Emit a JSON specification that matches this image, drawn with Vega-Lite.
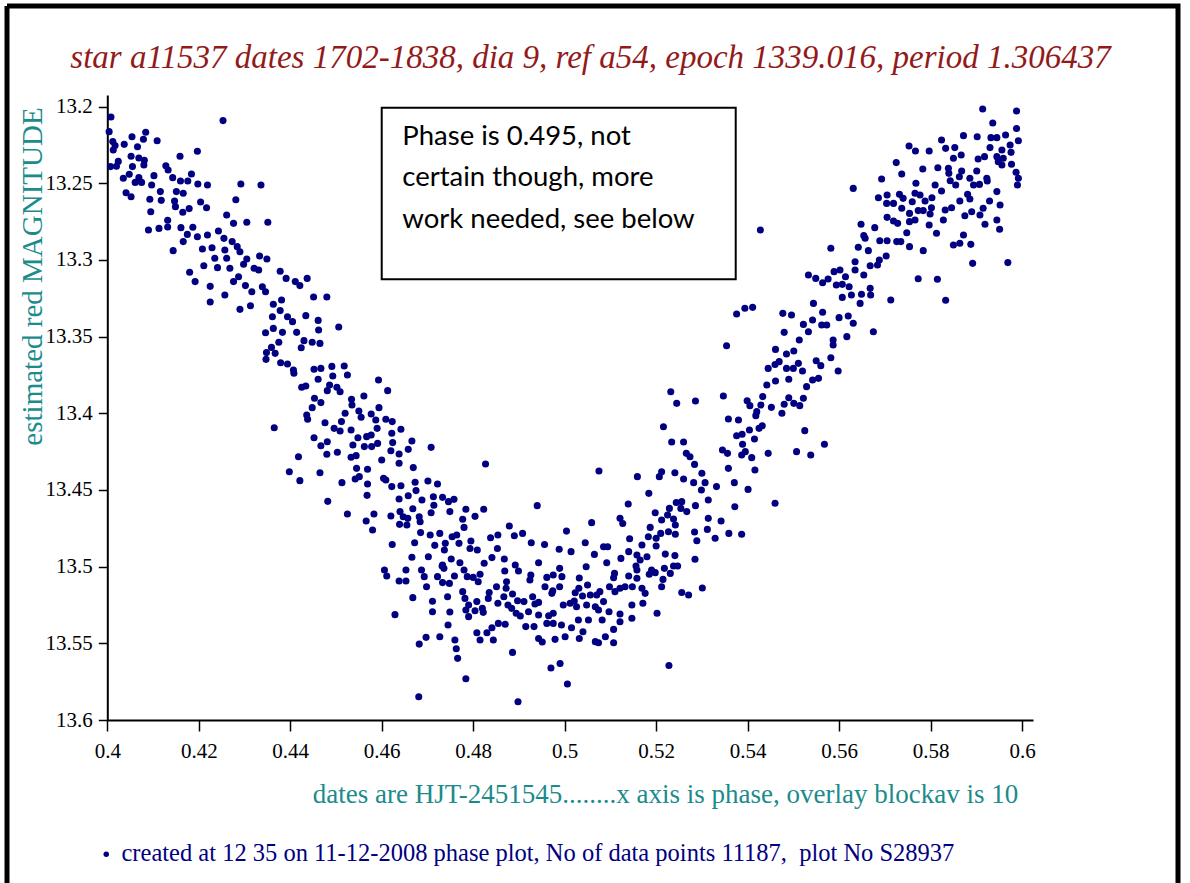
{
  "$schema": "https://vega.github.io/schema/vega-lite/v6.json",
  "width": 1171,
  "height": 877,
  "autosize": "none",
  "padding": {"left": 7, "top": 6, "right": 12, "bottom": 0},
  "background": "white",
  "config": {
    "view": {"stroke": "#000", "strokeWidth": 5, "strokeDash": [2048, 1171, 877, 0]},
    "font": "Liberation Serif"
  },
  "title": {
    "text": "star a11537 dates 1702-1838, dia 9, ref a54, epoch 1339.016, period 1.306437",
    "anchor": "middle",
    "frame": "group",
    "offset": -95,
    "dx": -2,
    "baseline": "alphabetic",
    "font": "Liberation Serif",
    "fontSize": 33,
    "fontStyle": "italic",
    "fontWeight": "normal",
    "color": "#931a1a"
  },
  "data": {"values": [
    {"phase":0.4008,"mag":13.2067},{"phase":0.4253,"mag":13.2091},{"phase":0.4004,"mag":13.2163},{"phase":0.4084,"mag":13.2167},{"phase":0.4054,"mag":13.2196},{"phase":0.4079,"mag":13.2213},{"phase":0.4109,"mag":13.2222},{"phase":0.4012,"mag":13.2228},{"phase":0.4017,"mag":13.2254},{"phase":0.4037,"mag":13.2246},
    {"phase":0.4066,"mag":13.2261},{"phase":0.4013,"mag":13.2283},{"phase":0.4197,"mag":13.2291},{"phase":0.4052,"mag":13.2324},{"phase":0.4159,"mag":13.2324},{"phase":0.4069,"mag":13.2335},{"phase":0.4081,"mag":13.235},{"phase":0.4024,"mag":13.2357},{"phase":0.4007,"mag":13.2391},{"phase":0.402,"mag":13.2389},
    {"phase":0.4055,"mag":13.2391},{"phase":0.4128,"mag":13.2385},{"phase":0.408,"mag":13.238},{"phase":0.4133,"mag":13.2413},{"phase":0.4048,"mag":13.2441},{"phase":0.4102,"mag":13.245},{"phase":0.4035,"mag":13.2467},{"phase":0.4069,"mag":13.2463},{"phase":0.4143,"mag":13.2463},{"phase":0.4184,"mag":13.2439},
    {"phase":0.416,"mag":13.2485},{"phase":0.4176,"mag":13.2485},{"phase":0.4061,"mag":13.2494},{"phase":0.4075,"mag":13.2494},{"phase":0.4097,"mag":13.2511},{"phase":0.4198,"mag":13.2504},{"phase":0.4219,"mag":13.2511},{"phase":0.4292,"mag":13.2504},{"phase":0.4336,"mag":13.2511},{"phase":0.4041,"mag":13.2561},
    {"phase":0.4052,"mag":13.2587},{"phase":0.4116,"mag":13.2554},{"phase":0.4151,"mag":13.2554},{"phase":0.4166,"mag":13.2565},{"phase":0.4093,"mag":13.2604},{"phase":0.4118,"mag":13.2611},{"phase":0.4147,"mag":13.2615},{"phase":0.4204,"mag":13.2622},{"phase":0.4281,"mag":13.2607},{"phase":0.4149,"mag":13.2652},
    {"phase":0.4217,"mag":13.2659},{"phase":0.4165,"mag":13.2689},{"phase":0.4179,"mag":13.2665},{"phase":0.4095,"mag":13.2685},{"phase":0.4261,"mag":13.2707},{"phase":0.4276,"mag":13.2761},{"phase":0.4305,"mag":13.2754},{"phase":0.4351,"mag":13.2754},{"phase":0.4132,"mag":13.2741},{"phase":0.409,"mag":13.2804},
    {"phase":0.4113,"mag":13.2794},{"phase":0.4132,"mag":13.2785},{"phase":0.4161,"mag":13.2789},{"phase":0.4187,"mag":13.2787},{"phase":0.4175,"mag":13.2833},{"phase":0.4166,"mag":13.288},{"phase":0.4197,"mag":13.2848},{"phase":0.4219,"mag":13.2837},{"phase":0.4243,"mag":13.2811},{"phase":0.4255,"mag":13.2859},
    {"phase":0.4273,"mag":13.288},{"phase":0.4284,"mag":13.2913},{"phase":0.4144,"mag":13.2939},{"phase":0.4208,"mag":13.2928},{"phase":0.4229,"mag":13.292},{"phase":0.4257,"mag":13.2935},{"phase":0.4235,"mag":13.2989},{"phase":0.4261,"mag":13.2989},{"phase":0.429,"mag":13.2946},{"phase":0.4305,"mag":13.2994},
    {"phase":0.4333,"mag":13.2974},{"phase":0.4349,"mag":13.2994},{"phase":0.4211,"mag":13.3037},{"phase":0.4241,"mag":13.305},{"phase":0.4268,"mag":13.3054},{"phase":0.4298,"mag":13.3028},{"phase":0.4321,"mag":13.3054},{"phase":0.4331,"mag":13.3065},{"phase":0.418,"mag":13.308},{"phase":0.4192,"mag":13.3141},
    {"phase":0.4225,"mag":13.3172},{"phase":0.4276,"mag":13.3141},{"phase":0.4287,"mag":13.3109},{"phase":0.4302,"mag":13.3167},{"phase":0.4316,"mag":13.3207},{"phase":0.4339,"mag":13.3174},{"phase":0.4346,"mag":13.3207},{"phase":0.4378,"mag":13.3074},{"phase":0.4391,"mag":13.312},{"phase":0.4411,"mag":13.3141},
    {"phase":0.4421,"mag":13.3167},{"phase":0.4437,"mag":13.312},{"phase":0.4257,"mag":13.3228},{"phase":0.4225,"mag":13.3274},{"phase":0.429,"mag":13.3322},{"phase":0.4313,"mag":13.3298},{"phase":0.4363,"mag":13.3289},{"phase":0.4381,"mag":13.3261},{"phase":0.4451,"mag":13.3241},{"phase":0.448,"mag":13.3241},
    {"phase":0.4378,"mag":13.333},{"phase":0.4361,"mag":13.337},{"phase":0.4394,"mag":13.337},{"phase":0.4405,"mag":13.3402},{"phase":0.4434,"mag":13.3363},{"phase":0.4461,"mag":13.3394},{"phase":0.4363,"mag":13.3446},{"phase":0.4346,"mag":13.3474},{"phase":0.4383,"mag":13.3472},{"phase":0.4414,"mag":13.3472},
    {"phase":0.4462,"mag":13.3457},{"phase":0.4506,"mag":13.3437},{"phase":0.4375,"mag":13.3537},{"phase":0.443,"mag":13.3526},{"phase":0.4448,"mag":13.3537},{"phase":0.4465,"mag":13.3544},
    {"phase":0.4424,"mag":13.3572},{"phase":0.4359,"mag":13.357},{"phase":0.4348,"mag":13.3604},{"phase":0.4367,"mag":13.3609},{"phase":0.4347,"mag":13.3648},{"phase":0.4379,"mag":13.367},{"phase":0.4394,"mag":13.3678},{"phase":0.4407,"mag":13.3717},{"phase":0.4408,"mag":13.3739},{"phase":0.4452,"mag":13.3713},
    {"phase":0.4467,"mag":13.3707},{"phase":0.4491,"mag":13.3694},{"phase":0.4518,"mag":13.3691},{"phase":0.4493,"mag":13.3757},{"phase":0.4525,"mag":13.375},{"phase":0.4461,"mag":13.3778},{"phase":0.4593,"mag":13.3783},{"phase":0.4613,"mag":13.3852},{"phase":0.4425,"mag":13.383},{"phase":0.4434,"mag":13.3822},
    {"phase":0.4486,"mag":13.3815},{"phase":0.4502,"mag":13.383},{"phase":0.4481,"mag":13.3852},{"phase":0.4509,"mag":13.3859},{"phase":0.4453,"mag":13.3902},{"phase":0.4467,"mag":13.393},{"phase":0.4448,"mag":13.3963},{"phase":0.4561,"mag":13.3887},{"phase":0.4534,"mag":13.3909},{"phase":0.4535,"mag":13.3946},
    {"phase":0.455,"mag":13.3985},{"phase":0.4594,"mag":13.3963},{"phase":0.4577,"mag":13.4004},{"phase":0.452,"mag":13.4},{"phase":0.4512,"mag":13.4054},{"phase":0.4436,"mag":13.4011},{"phase":0.4438,"mag":13.4039},{"phase":0.4476,"mag":13.4061},{"phase":0.4555,"mag":13.4026},{"phase":0.4587,"mag":13.4044},
    {"phase":0.4609,"mag":13.4039},{"phase":0.4623,"mag":13.4054},{"phase":0.459,"mag":13.4098},{"phase":0.4642,"mag":13.4104},{"phase":0.4365,"mag":13.4094},{"phase":0.4496,"mag":13.4098},{"phase":0.4509,"mag":13.4115},{"phase":0.4533,"mag":13.4109},{"phase":0.4548,"mag":13.4159},{"phase":0.4567,"mag":13.4152},
    {"phase":0.4577,"mag":13.4141},{"phase":0.4591,"mag":13.4196},{"phase":0.4622,"mag":13.413},{"phase":0.4452,"mag":13.4159},{"phase":0.4481,"mag":13.4185},{"phase":0.4467,"mag":13.4211},{"phase":0.4537,"mag":13.4207},{"phase":0.4562,"mag":13.4217},{"phase":0.4578,"mag":13.4217},{"phase":0.4503,"mag":13.4254},
    {"phase":0.448,"mag":13.4267},{"phase":0.4418,"mag":13.4283},{"phase":0.4533,"mag":13.4287},{"phase":0.4544,"mag":13.4276},{"phase":0.4398,"mag":13.4381},{"phase":0.4465,"mag":13.4387},{"phase":0.4421,"mag":13.4439},{"phase":0.4545,"mag":13.4359},{"phase":0.4569,"mag":13.4365},{"phase":0.4551,"mag":13.4413},
    {"phase":0.4542,"mag":13.4428},{"phase":0.4513,"mag":13.4452},{"phase":0.4569,"mag":13.4461},{"phase":0.4482,"mag":13.4574},{"phase":0.4568,"mag":13.4535},{"phase":0.4525,"mag":13.4657},{"phase":0.4566,"mag":13.4702},{"phase":0.4583,"mag":13.4657},{"phase":0.458,"mag":13.4761},
    {"phase":0.4624,"mag":13.4191},{"phase":0.4666,"mag":13.4181},{"phase":0.4708,"mag":13.4222},{"phase":0.4658,"mag":13.4235},{"phase":0.462,"mag":13.4244},{"phase":0.4638,"mag":13.4265},{"phase":0.46,"mag":13.4304},{"phase":0.4638,"mag":13.4326},{"phase":0.4669,"mag":13.4354},{"phase":0.4827,"mag":13.4331},
    {"phase":0.5075,"mag":13.4376},{"phase":0.5234,"mag":13.4187},{"phase":0.526,"mag":13.4187},{"phase":0.5266,"mag":13.4261},{"phase":0.5274,"mag":13.4283},{"phase":0.5284,"mag":13.4333},{"phase":0.53,"mag":13.4391},{"phase":0.5307,"mag":13.4452},{"phase":0.5299,"mag":13.45},{"phase":0.5282,"mag":13.4452},
    {"phase":0.5241,"mag":13.4387},{"phase":0.526,"mag":13.4428},{"phase":0.5212,"mag":13.4381},{"phase":0.5207,"mag":13.4413},{"phase":0.5159,"mag":13.4413},{"phase":0.5314,"mag":13.4565},{"phase":0.4604,"mag":13.4424},{"phase":0.4609,"mag":13.4435},{"phase":0.4622,"mag":13.4478},{"phase":0.4642,"mag":13.4472},
    {"phase":0.4673,"mag":13.445},{"phase":0.4701,"mag":13.4441},{"phase":0.4722,"mag":13.4461},{"phase":0.4675,"mag":13.4504},{"phase":0.4658,"mag":13.4537},{"phase":0.4638,"mag":13.4559},{"phase":0.4688,"mag":13.4565},{"phase":0.4713,"mag":13.4544},{"phase":0.4733,"mag":13.4548},{"phase":0.4746,"mag":13.4576},
    {"phase":0.4758,"mag":13.4561},{"phase":0.494,"mag":13.4602},{"phase":0.5184,"mag":13.4522},{"phase":0.5139,"mag":13.4591},{"phase":0.5244,"mag":13.4581},{"phase":0.5256,"mag":13.4576},{"phase":0.5254,"mag":13.462},{"phase":0.5267,"mag":13.4641},{"phase":0.5286,"mag":13.4602},{"phase":0.5229,"mag":13.462},
    {"phase":0.5225,"mag":13.4663},{"phase":0.5212,"mag":13.4696},{"phase":0.5198,"mag":13.4648},{"phase":0.5238,"mag":13.4689},{"phase":0.5242,"mag":13.4728},{"phase":0.462,"mag":13.467},{"phase":0.464,"mag":13.4641},{"phase":0.4647,"mag":13.4674},{"phase":0.4657,"mag":13.4685},{"phase":0.4668,"mag":13.4622},
    {"phase":0.4682,"mag":13.4674},{"phase":0.4684,"mag":13.4707},{"phase":0.4708,"mag":13.4648},{"phase":0.4714,"mag":13.46},{"phase":0.4749,"mag":13.4641},{"phase":0.4784,"mag":13.4626},{"phase":0.4804,"mag":13.4672},{"phase":0.4823,"mag":13.4626},{"phase":0.4777,"mag":13.4691},{"phase":0.4639,"mag":13.4724},
    {"phase":0.4655,"mag":13.4728},{"phase":0.4685,"mag":13.4778},{"phase":0.4706,"mag":13.4794},{"phase":0.4727,"mag":13.4783},{"phase":0.4754,"mag":13.4805},{"phase":0.4764,"mag":13.4794},{"phase":0.478,"mag":13.4744},{"phase":0.4795,"mag":13.4833},{"phase":0.4809,"mag":13.4891},{"phase":0.4838,"mag":13.4811},
    {"phase":0.4854,"mag":13.4794},{"phase":0.4879,"mag":13.4735},{"phase":0.489,"mag":13.4798},{"phase":0.4908,"mag":13.4783},{"phase":0.5004,"mag":13.4768},{"phase":0.5059,"mag":13.4713},{"phase":0.5121,"mag":13.4685},{"phase":0.5127,"mag":13.4718},{"phase":0.5187,"mag":13.4744},{"phase":0.521,"mag":13.4783},
    {"phase":0.5227,"mag":13.4772},{"phase":0.5242,"mag":13.4789},{"phase":0.5284,"mag":13.4774},{"phase":0.5289,"mag":13.4831},{"phase":0.5312,"mag":13.4757},{"phase":0.5314,"mag":13.4685},{"phase":0.4623,"mag":13.4855},{"phase":0.4672,"mag":13.4844},{"phase":0.4716,"mag":13.4861},{"phase":0.4739,"mag":13.4848},
    {"phase":0.4769,"mag":13.4848},{"phase":0.4793,"mag":13.4881},{"phase":0.4737,"mag":13.4891},{"phase":0.4927,"mag":13.4844},{"phase":0.4956,"mag":13.4855},{"phase":0.4988,"mag":13.4887},{"phase":0.5014,"mag":13.4902},{"phase":0.5045,"mag":13.4844},{"phase":0.5085,"mag":13.487},{"phase":0.5094,"mag":13.487},
    {"phase":0.5065,"mag":13.492},{"phase":0.5142,"mag":13.4818},{"phase":0.5183,"mag":13.4805},{"phase":0.52,"mag":13.4815},{"phase":0.52,"mag":13.4865},{"phase":0.5169,"mag":13.4859},{"phase":0.514,"mag":13.4902},{"phase":0.5123,"mag":13.4946},{"phase":0.5158,"mag":13.4924},{"phase":0.5165,"mag":13.4957},
    {"phase":0.518,"mag":13.4935},{"phase":0.522,"mag":13.4918},{"phase":0.5241,"mag":13.4928},{"phase":0.5285,"mag":13.4952},{"phase":0.4666,"mag":13.4939},{"phase":0.4702,"mag":13.4935},{"phase":0.4733,"mag":13.4989},{"phase":0.4752,"mag":13.495},{"phase":0.4771,"mag":13.4974},{"phase":0.478,"mag":13.5022},
    {"phase":0.4824,"mag":13.4978},{"phase":0.4841,"mag":13.4941},{"phase":0.4853,"mag":13.4881},{"phase":0.4868,"mag":13.495},{"phase":0.4869,"mag":13.5028},{"phase":0.4892,"mag":13.4989},{"phase":0.4899,"mag":13.5028},{"phase":0.4943,"mag":13.4974},{"phase":0.4989,"mag":13.5011},{"phase":0.5047,"mag":13.5},
    {"phase":0.5092,"mag":13.4974},{"phase":0.5156,"mag":13.4996},{"phase":0.5158,"mag":13.5022},{"phase":0.519,"mag":13.5022},{"phase":0.5185,"mag":13.505},{"phase":0.5198,"mag":13.5039},{"phase":0.5218,"mag":13.5011},{"phase":0.5238,"mag":13.4996},{"phase":0.5247,"mag":13.4996},{"phase":0.5231,"mag":13.5044},
    {"phase":0.5215,"mag":13.5083},{"phase":0.5212,"mag":13.5131},{"phase":0.514,"mag":13.5061},{"phase":0.5158,"mag":13.5076},{"phase":0.5148,"mag":13.5131},{"phase":0.5169,"mag":13.5141},{"phase":0.5176,"mag":13.5174},{"phase":0.5256,"mag":13.5168},{"phase":0.5271,"mag":13.5185},{"phase":0.5301,"mag":13.5139},
    {"phase":0.4606,"mag":13.5022},{"phase":0.4611,"mag":13.5061},{"phase":0.4653,"mag":13.5022},{"phase":0.4687,"mag":13.5022},{"phase":0.4693,"mag":13.5065},{"phase":0.4698,"mag":13.5131},{"phase":0.4722,"mag":13.5065},{"phase":0.4732,"mag":13.4996},{"phase":0.4736,"mag":13.5011},{"phase":0.4638,"mag":13.5094},
    {"phase":0.4653,"mag":13.5094},{"phase":0.4733,"mag":13.5104},{"phase":0.4748,"mag":13.5109},{"phase":0.4759,"mag":13.5061},{"phase":0.4787,"mag":13.5065},{"phase":0.48,"mag":13.507},{"phase":0.4815,"mag":13.505},{"phase":0.4811,"mag":13.5098},{"phase":0.4873,"mag":13.5098},{"phase":0.4872,"mag":13.5141},
    {"phase":0.4926,"mag":13.5054},{"phase":0.4924,"mag":13.5087},{"phase":0.4961,"mag":13.507},{"phase":0.4975,"mag":13.5054},{"phase":0.4994,"mag":13.5065},{"phase":0.5032,"mag":13.5074},{"phase":0.5109,"mag":13.5044},{"phase":0.5107,"mag":13.5072},{"phase":0.5132,"mag":13.5131},{"phase":0.5121,"mag":13.5141},
    {"phase":0.511,"mag":13.5163},{"phase":0.5098,"mag":13.5131},{"phase":0.5077,"mag":13.5163},{"phase":0.507,"mag":13.5185},{"phase":0.505,"mag":13.512},{"phase":0.5031,"mag":13.5141},{"phase":0.5023,"mag":13.517},{"phase":0.5039,"mag":13.5191},{"phase":0.5056,"mag":13.5185},{"phase":0.5021,"mag":13.5224},
    {"phase":0.4974,"mag":13.5157},{"phase":0.4957,"mag":13.5131},{"phase":0.4989,"mag":13.5131},{"phase":0.4972,"mag":13.5174},{"phase":0.4668,"mag":13.5202},{"phase":0.4711,"mag":13.5226},{"phase":0.4744,"mag":13.5196},{"phase":0.4777,"mag":13.5163},{"phase":0.4782,"mag":13.5207},{"phase":0.4835,"mag":13.5168},
    {"phase":0.4851,"mag":13.5131},{"phase":0.4833,"mag":13.5207},{"phase":0.4854,"mag":13.5239},{"phase":0.4867,"mag":13.5196},{"phase":0.4886,"mag":13.5178},{"phase":0.4897,"mag":13.5222},{"phase":0.4911,"mag":13.5228},{"phase":0.493,"mag":13.5196},{"phase":0.4935,"mag":13.5244},{"phase":0.4943,"mag":13.5233},
    {"phase":0.479,"mag":13.525},{"phase":0.4808,"mag":13.5228},{"phase":0.482,"mag":13.5272},{"phase":0.4784,"mag":13.5283},{"phase":0.4804,"mag":13.5287},{"phase":0.4822,"mag":13.5298},{"phase":0.479,"mag":13.5326},{"phase":0.4749,"mag":13.5296},{"phase":0.4711,"mag":13.5294},{"phase":0.4629,"mag":13.5313},
    {"phase":0.4876,"mag":13.525},{"phase":0.4884,"mag":13.5272},{"phase":0.4894,"mag":13.5304},{"phase":0.4903,"mag":13.5322},{"phase":0.4921,"mag":13.5294},{"phase":0.4943,"mag":13.5315},{"phase":0.4965,"mag":13.532},{"phase":0.4975,"mag":13.5304},{"phase":0.4997,"mag":13.525},{"phase":0.5012,"mag":13.5239},
    {"phase":0.5026,"mag":13.5261},{"phase":0.5048,"mag":13.525},{"phase":0.5067,"mag":13.5261},{"phase":0.5074,"mag":13.5283},{"phase":0.5097,"mag":13.5294},{"phase":0.5121,"mag":13.5309},{"phase":0.5147,"mag":13.525},{"phase":0.5171,"mag":13.5239},{"phase":0.5202,"mag":13.5304},{"phase":0.5085,"mag":13.5228},
    {"phase":0.4745,"mag":13.5381},{"phase":0.476,"mag":13.5478},{"phase":0.4763,"mag":13.5535},{"phase":0.4766,"mag":13.5598},{"phase":0.4697,"mag":13.5461},{"phase":0.4682,"mag":13.5505},{"phase":0.4727,"mag":13.5457},{"phase":0.4808,"mag":13.5431},{"phase":0.4815,"mag":13.5478},{"phase":0.483,"mag":13.5431},
    {"phase":0.4844,"mag":13.5478},{"phase":0.4841,"mag":13.5398},{"phase":0.4855,"mag":13.537},{"phase":0.487,"mag":13.5376},{"phase":0.4915,"mag":13.5391},{"phase":0.4933,"mag":13.5391},{"phase":0.4961,"mag":13.537},{"phase":0.4975,"mag":13.537},{"phase":0.4993,"mag":13.5381},{"phase":0.5015,"mag":13.5398},
    {"phase":0.503,"mag":13.5348},{"phase":0.5052,"mag":13.5348},{"phase":0.5082,"mag":13.5348},{"phase":0.5121,"mag":13.5359},{"phase":0.5147,"mag":13.5337},{"phase":0.5107,"mag":13.5409},{"phase":0.5089,"mag":13.5457},{"phase":0.5107,"mag":13.5496},{"phase":0.504,"mag":13.5424},{"phase":0.5032,"mag":13.5468},
    {"phase":0.5001,"mag":13.5457},{"phase":0.4979,"mag":13.5474},{"phase":0.4951,"mag":13.5491},{"phase":0.4943,"mag":13.5468},{"phase":0.5067,"mag":13.5489},{"phase":0.5074,"mag":13.5496},{"phase":0.4886,"mag":13.5559},{"phase":0.497,"mag":13.5661},{"phase":0.499,"mag":13.5631},{"phase":0.5006,"mag":13.5765},
    {"phase":0.4784,"mag":13.5731},{"phase":0.4681,"mag":13.5848},{"phase":0.4898,"mag":13.5881},{"phase":0.5228,"mag":13.5644},
    {"phase":0.5914,"mag":13.2015},{"phase":0.5988,"mag":13.2028},{"phase":0.5936,"mag":13.2107},{"phase":0.5988,"mag":13.2143},{"phase":0.5964,"mag":13.2185},{"phase":0.5992,"mag":13.2222},{"phase":0.5872,"mag":13.2189},{"phase":0.5902,"mag":13.2196},{"phase":0.5932,"mag":13.2202},{"phase":0.5945,"mag":13.2202},
    {"phase":0.5824,"mag":13.2217},{"phase":0.5753,"mag":13.2257},{"phase":0.5767,"mag":13.2289},{"phase":0.5797,"mag":13.2289},{"phase":0.5833,"mag":13.2272},{"phase":0.5853,"mag":13.2267},{"phase":0.5867,"mag":13.2315},{"phase":0.585,"mag":13.2337},{"phase":0.593,"mag":13.2267},{"phase":0.5956,"mag":13.2283},
    {"phase":0.5974,"mag":13.225},{"phase":0.5976,"mag":13.2298},{"phase":0.5959,"mag":13.2337},{"phase":0.5945,"mag":13.2326},{"phase":0.5918,"mag":13.2326},{"phase":0.5904,"mag":13.2341},{"phase":0.5948,"mag":13.2359},{"phase":0.5956,"mag":13.238},{"phase":0.5977,"mag":13.2376},{"phase":0.5987,"mag":13.2428},
    {"phase":0.5992,"mag":13.2467},{"phase":0.599,"mag":13.2511},{"phase":0.5725,"mag":13.2365},{"phase":0.5737,"mag":13.2439},{"phase":0.5783,"mag":13.2407},{"phase":0.5816,"mag":13.2398},{"phase":0.5839,"mag":13.2402},{"phase":0.584,"mag":13.2435},{"phase":0.5868,"mag":13.242},{"phase":0.5863,"mag":13.2457},
    {"phase":0.5901,"mag":13.242},{"phase":0.5923,"mag":13.2467},{"phase":0.5886,"mag":13.2467},{"phase":0.5894,"mag":13.2511},{"phase":0.5907,"mag":13.2507},{"phase":0.5924,"mag":13.2485},{"phase":0.5693,"mag":13.2472},{"phase":0.5768,"mag":13.25},{"phase":0.581,"mag":13.2511},{"phase":0.5843,"mag":13.2483},
    {"phase":0.5855,"mag":13.2511},{"phase":0.5631,"mag":13.2533},{"phase":0.5686,"mag":13.2594},{"phase":0.5705,"mag":13.2576},{"phase":0.5732,"mag":13.2572},{"phase":0.574,"mag":13.2598},{"phase":0.5704,"mag":13.2631},{"phase":0.5719,"mag":13.2631},{"phase":0.5737,"mag":13.2663},{"phase":0.5754,"mag":13.2696},
    {"phase":0.5766,"mag":13.2565},{"phase":0.5777,"mag":13.2576},{"phase":0.576,"mag":13.262},{"phase":0.5788,"mag":13.2615},{"phase":0.5803,"mag":13.2594},{"phase":0.5824,"mag":13.255},{"phase":0.5864,"mag":13.2615},{"phase":0.5881,"mag":13.2572},{"phase":0.5886,"mag":13.2602},{"phase":0.5945,"mag":13.2554},
    {"phase":0.5929,"mag":13.2615},{"phase":0.5952,"mag":13.2641},{"phase":0.5915,"mag":13.2663},{"phase":0.5908,"mag":13.2707},{"phase":0.589,"mag":13.2685},{"phase":0.5875,"mag":13.2711},{"phase":0.5832,"mag":13.2674},{"phase":0.5846,"mag":13.2659},{"phase":0.5828,"mag":13.2739},{"phase":0.5799,"mag":13.27},
    {"phase":0.5773,"mag":13.2678},{"phase":0.5784,"mag":13.2678},{"phase":0.5802,"mag":13.2659},{"phase":0.5945,"mag":13.2739},{"phase":0.5919,"mag":13.2767},{"phase":0.5951,"mag":13.28},{"phase":0.5705,"mag":13.2722},{"phase":0.5719,"mag":13.2746},{"phase":0.5728,"mag":13.2761},{"phase":0.5754,"mag":13.275},
    {"phase":0.5766,"mag":13.2739},{"phase":0.5797,"mag":13.2772},{"phase":0.5813,"mag":13.2826},{"phase":0.5872,"mag":13.2837},{"phase":0.585,"mag":13.2902},{"phase":0.5864,"mag":13.2891},{"phase":0.5888,"mag":13.2898},{"phase":0.5892,"mag":13.3022},{"phase":0.5969,"mag":13.3017},{"phase":0.5428,"mag":13.2804},
    {"phase":0.5648,"mag":13.2767},{"phase":0.5678,"mag":13.2789},{"phase":0.5654,"mag":13.2841},{"phase":0.5657,"mag":13.2858},{"phase":0.5689,"mag":13.2874},{"phase":0.5705,"mag":13.2874},{"phase":0.5726,"mag":13.288},{"phase":0.5735,"mag":13.288},{"phase":0.5748,"mag":13.2822},{"phase":0.5754,"mag":13.2913},
    {"phase":0.5784,"mag":13.2939},{"phase":0.5642,"mag":13.2917},{"phase":0.5664,"mag":13.2939},{"phase":0.5582,"mag":13.2924},{"phase":0.5703,"mag":13.2974},{"phase":0.5688,"mag":13.3},{"phase":0.5668,"mag":13.3037},{"phase":0.5684,"mag":13.3033},{"phase":0.5635,"mag":13.3011},{"phase":0.5602,"mag":13.3065},
    {"phase":0.5635,"mag":13.3065},{"phase":0.5654,"mag":13.3098},{"phase":0.5614,"mag":13.3109},{"phase":0.5589,"mag":13.3076},{"phase":0.5576,"mag":13.3124},{"phase":0.5564,"mag":13.3148},{"phase":0.5549,"mag":13.312},{"phase":0.5533,"mag":13.3098},{"phase":0.5594,"mag":13.3163},{"phase":0.5607,"mag":13.3159},
    {"phase":0.5622,"mag":13.3174},{"phase":0.5607,"mag":13.3244},{"phase":0.5627,"mag":13.3228},{"phase":0.5649,"mag":13.3224},{"phase":0.5668,"mag":13.3185},{"phase":0.5669,"mag":13.3228},{"phase":0.5646,"mag":13.3283},{"phase":0.5713,"mag":13.3261},{"phase":0.5773,"mag":13.3122},{"phase":0.5815,"mag":13.3126},
    {"phase":0.5833,"mag":13.3263},{"phase":0.5544,"mag":13.3283},{"phase":0.5564,"mag":13.3341},{"phase":0.5542,"mag":13.3391},{"phase":0.5562,"mag":13.3424},{"phase":0.5573,"mag":13.3424},{"phase":0.5522,"mag":13.342},{"phase":0.5533,"mag":13.3468},{"phase":0.56,"mag":13.3376},{"phase":0.562,"mag":13.3365},
    {"phase":0.5631,"mag":13.3413},{"phase":0.5587,"mag":13.3522},{"phase":0.5587,"mag":13.3554},{"phase":0.5617,"mag":13.35},{"phase":0.5675,"mag":13.3468},{"phase":0.5513,"mag":13.3522},{"phase":0.5501,"mag":13.3594},{"phase":0.5485,"mag":13.3613},{"phase":0.5461,"mag":13.3583},{"phase":0.5477,"mag":13.3348},
    {"phase":0.5496,"mag":13.3359},{"phase":0.548,"mag":13.3472},{"phase":0.5376,"mag":13.3352},{"phase":0.5394,"mag":13.3315},{"phase":0.5411,"mag":13.3309},{"phase":0.5354,"mag":13.3559},{"phase":0.5469,"mag":13.3663},{"phase":0.5445,"mag":13.3707},{"phase":0.546,"mag":13.3681},{"phase":0.5485,"mag":13.3707},
    {"phase":0.55,"mag":13.3707},{"phase":0.5511,"mag":13.3674},{"phase":0.552,"mag":13.3724},{"phase":0.5461,"mag":13.3789},{"phase":0.549,"mag":13.3778},{"phase":0.5442,"mag":13.3815},{"phase":0.555,"mag":13.3657},{"phase":0.556,"mag":13.3689},{"phase":0.5582,"mag":13.3637},{"phase":0.5598,"mag":13.3724},
    {"phase":0.5542,"mag":13.3783},{"phase":0.5555,"mag":13.3772},{"phase":0.5529,"mag":13.3826},{"phase":0.5347,"mag":13.3887},{"phase":0.5399,"mag":13.3918},{"phase":0.5405,"mag":13.395},{"phase":0.5433,"mag":13.3891},{"phase":0.5429,"mag":13.3946},{"phase":0.542,"mag":13.3989},{"phase":0.5418,"mag":13.4015},
    {"phase":0.5452,"mag":13.3961},{"phase":0.549,"mag":13.3898},{"phase":0.548,"mag":13.3941},{"phase":0.5501,"mag":13.3935},{"phase":0.5514,"mag":13.395},{"phase":0.5522,"mag":13.3902},{"phase":0.5475,"mag":13.4},{"phase":0.5232,"mag":13.3859},{"phase":0.5245,"mag":13.3935},{"phase":0.5286,"mag":13.392},
    {"phase":0.5216,"mag":13.4087},{"phase":0.5358,"mag":13.4037},{"phase":0.538,"mag":13.4044},{"phase":0.5404,"mag":13.4109},{"phase":0.5425,"mag":13.4098},{"phase":0.5432,"mag":13.4081},{"phase":0.5376,"mag":13.4146},{"phase":0.5388,"mag":13.4137},{"phase":0.5415,"mag":13.4167},{"phase":0.5389,"mag":13.4202},
    {"phase":0.5395,"mag":13.425},{"phase":0.5387,"mag":13.4272},{"phase":0.5409,"mag":13.4289},{"phase":0.5345,"mag":13.4239},{"phase":0.5356,"mag":13.4261},{"phase":0.5445,"mag":13.4261},{"phase":0.5416,"mag":13.437},{"phase":0.5358,"mag":13.4359},{"phase":0.5371,"mag":13.4452},{"phase":0.5401,"mag":13.4496},
    {"phase":0.546,"mag":13.4587},{"phase":0.5372,"mag":13.4609},{"phase":0.5525,"mag":13.4113},{"phase":0.5568,"mag":13.4202},{"phase":0.5507,"mag":13.425},{"phase":0.5538,"mag":13.4272},{"phase":0.5342,"mag":13.4702},{"phase":0.5359,"mag":13.4783},{"phase":0.5387,"mag":13.4789},{"phase":0.5329,"mag":13.4815},
    {"phase":0.5332,"mag":13.4478}
  ]},
  "layer": [
    {
      "mark": {"type": "circle", "size": 50, "opacity": 1},
      "encoding": {
        "x": {
          "field": "phase",
          "type": "quantitative",
          "title": "dates are HJT-2451545........x axis is phase, overlay blockav is 10",
          "scale": {"domain": [0.4, 0.6024], "range": [100.3, 1026], "nice": false, "zero": false},
          "axis": {
            "orient": "bottom",
            "offset": -163,
            "values": [0.4, 0.42, 0.44, 0.46, 0.48, 0.5, 0.52, 0.54, 0.56, 0.58, 0.6],
            "format": "~g",
            "grid": false,
            "domainColor": "#000",
            "domainWidth": 2,
            "tickColor": "#000",
            "tickWidth": 1.5,
            "tickSize": 11,
            "labelFont": "Liberation Serif",
            "labelFontSize": 21,
            "labelColor": "#000",
            "labelPadding": 9,
            "labelFlush": false,
            "labelOverlap": false,
            "titleFont": "Liberation Serif",
            "titleFontSize": 27,
            "titleFontWeight": "normal",
            "titleColor": "#1b8b8b",
            "titleX": 658,
            "titleY": 82,
            "titleAlign": "center",
            "titleBaseline": "alphabetic"
          }
        },
        "y": {
          "field": "mag",
          "type": "quantitative",
          "title": "estimated red MAGNITUDE",
          "scale": {"domain": [13.1924, 13.6], "range": [89, 714], "nice": false, "zero": false},
          "axis": {
            "orient": "left",
            "offset": -100.3,
            "values": [13.2, 13.25, 13.3, 13.35, 13.4, 13.45, 13.5, 13.55, 13.6],
            "format": "~g",
            "grid": false,
            "domainColor": "#000",
            "domainWidth": 2,
            "tickColor": "#000",
            "tickWidth": 1.5,
            "tickSize": 9,
            "labelFont": "Liberation Serif",
            "labelFontSize": 21,
            "labelColor": "#000",
            "labelPadding": 6,
            "labelFlush": false,
            "labelOverlap": false,
            "titleFont": "Liberation Serif",
            "titleFontSize": 29,
            "titleFontWeight": "normal",
            "titleColor": "#1b8b8b",
            "titleAngle": -90,
            "titleX": -65.5,
            "titleY": 270,
            "titleAlign": "center",
            "titleBaseline": "alphabetic"
          }
        },
        "color": {
          "datum": "created at 12 35 on 11-12-2008 phase plot, No of data points 11187,\u00a0 plot No S28937",
          "type": "nominal",
          "scale": {"range": ["#000080"]},
          "legend": {
            "orient": "none",
            "legendX": 87,
            "legendY": 836,
            "title": null,
            "padding": 0,
            "symbolType": "circle",
            "symbolSize": 30,
            "symbolStrokeWidth": 0,
            "symbolOpacity": 1,
            "labelFont": "Liberation Serif",
            "labelFontSize": 24.5,
            "labelColor": "#000080",
            "labelOffset": 3,
            "labelLimit": 2000
          }
        }
      }
    },
    {
      "data": {"values": [{}]},
      "mark": {"type": "rect", "fill": "white", "stroke": "#000", "strokeWidth": 2},
      "encoding": {
        "x": {"datum": 0.46, "type": "quantitative"},
        "x2": {"datum": 0.5374},
        "y": {"datum": 13.2007, "type": "quantitative"},
        "y2": {"datum": 13.3126}
      }
    },
    {
      "data": {"values": [{}]},
      "mark": {
        "type": "text",
        "text": ["Phase is 0.495, not", "certain though, more", "work needed, see below"],
        "font": "Lato",
        "fontSize": 27.5,
        "lineHeight": 41.5,
        "align": "left",
        "baseline": "alphabetic",
        "color": "#000"
      },
      "encoding": {
        "x": {"datum": 0.4645, "type": "quantitative"},
        "y": {"datum": 13.225, "type": "quantitative"}
      }
    }
  ]
}
